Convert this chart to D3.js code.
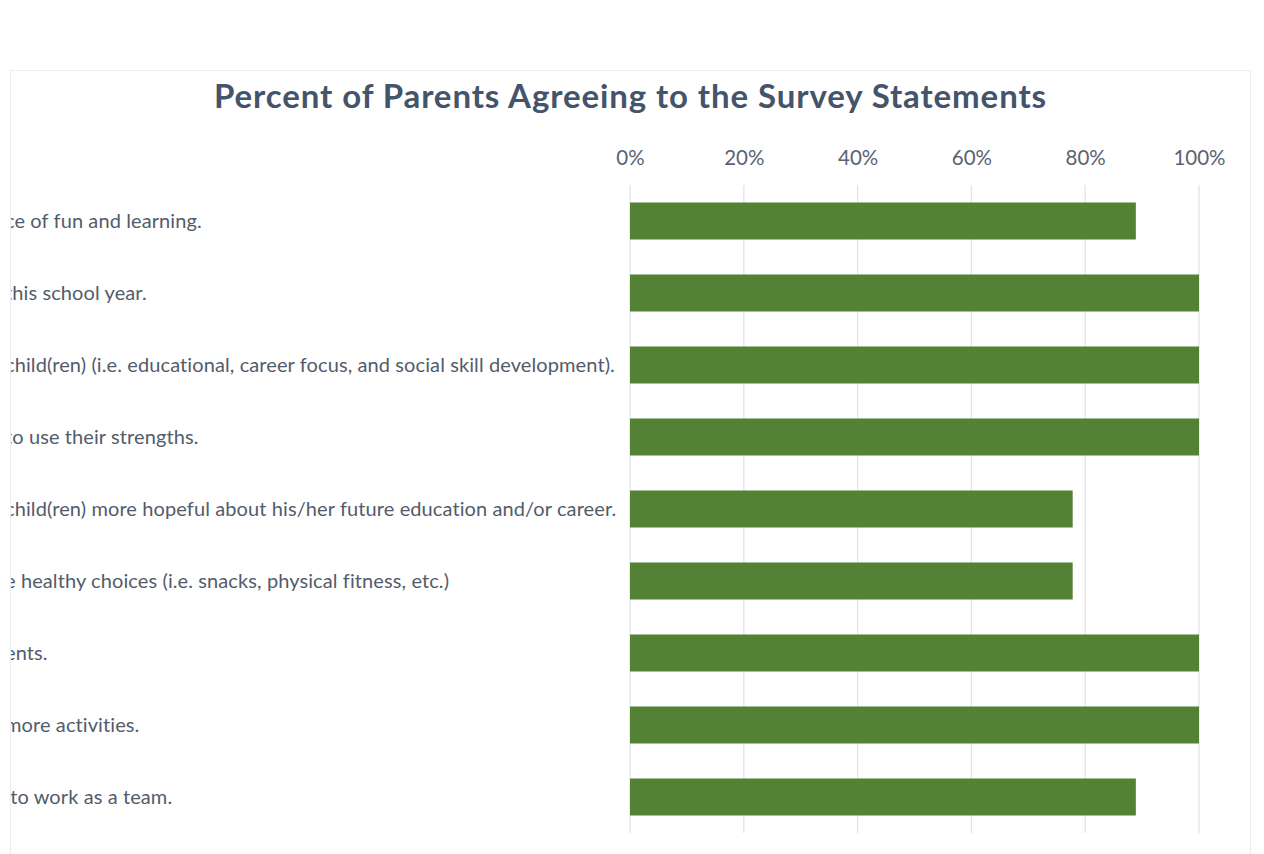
<!DOCTYPE html>
<html>
<head>
<meta charset="utf-8">
<script src="https://cdn.jsdelivr.net/npm/d3@7"></script>
<style>
  html, body { margin: 0; padding: 0; background: #ffffff; }
  svg { display: block; }
</style>
</head>
<body>
<svg id="chart" width="1264" height="854"></svg>
<script>
// ---- data (labels are clipped at the chart's left edge) ----
const categories = [
  "ce of fun and learning.",
  "this school year.",
  "child(ren) (i.e. educational, career focus, and social skill development).",
  "to use their strengths.",
  "child(ren) more hopeful about his/her future education and/or career.",
  "e healthy choices (i.e. snacks, physical fitness, etc.)",
  "ents.",
  "more activities.",
  "\u00a0to work as a team."
];
const values = [88.9, 100, 100, 100, 77.8, 77.8, 100, 100, 88.9];
const tickValues = [0, 20, 40, 60, 80, 100];
const tickLabels = ["0%", "20%", "40%", "60%", "80%", "100%"];
const title = "Percent of Parents Agreeing to the Survey Statements";

// ---- layout ----
const svg = d3.select("#chart");
const frame = { x: 10.5, y: 70.5, w: 1240, h: 800 };
const plot = { left: 630, right: 1199, top: 185, bottom: 833 };
const labelX = 5;
const font = "Lato, 'Open Sans', sans-serif";

const defs = svg.append("defs");
defs.append("clipPath").attr("id", "frameClip")
  .append("rect").attr("x", frame.x + 0.5).attr("y", frame.y).attr("width", frame.w).attr("height", frame.h);

svg.append("rect")
  .attr("x", frame.x).attr("y", frame.y).attr("width", frame.w).attr("height", frame.h)
  .attr("fill", "#ffffff").attr("stroke", "#ebebf0").attr("stroke-width", 1);

const x = d3.scaleLinear().domain([0, 100]).range([plot.left, plot.right]);
const y = d3.scaleBand().domain(d3.range(categories.length))
  .range([plot.top, plot.bottom]).paddingInner(0.486).paddingOuter(0.243);

const g = svg.append("g").attr("clip-path", "url(#frameClip)");

// gridlines
g.append("g").selectAll("line").data(tickValues).join("line")
  .attr("x1", d => x(d)).attr("x2", d => x(d))
  .attr("y1", plot.top).attr("y2", plot.bottom)
  .attr("stroke", "#e3e3ea").attr("stroke-width", 1.3);

// top axis
const axis = d3.axisTop(x).tickValues(tickValues)
  .tickFormat((d, i) => tickLabels[i]).tickSize(0).tickPadding(0);
const ax = g.append("g").attr("transform", `translate(0,${164.5})`).call(axis);
ax.select(".domain").remove();
ax.selectAll("text")
  .attr("dy", 0)
  .attr("font-family", font)
  .attr("font-size", 20.5)
  .attr("fill", "#5a6372");

// bars
g.append("g").selectAll("rect").data(values).join("rect")
  .attr("x", x(0))
  .attr("y", (d, i) => y(i))
  .attr("width", d => x(d) - x(0))
  .attr("height", y.bandwidth())
  .attr("fill", "#548235");

// category labels (left-aligned, clipped by frame)
g.append("g").selectAll("text").data(categories).join("text")
  .attr("x", labelX)
  .attr("y", (d, i) => y(i) + y.bandwidth() / 2)
  .attr("dy", "0.35em")
  .attr("font-family", font)
  .attr("font-size", 20)
  .attr("letter-spacing", 0.1)
  .attr("fill", "#535c6a")
  .text(d => d);

// title
svg.append("text")
  .attr("x", frame.x + frame.w / 2)
  .attr("y", 107.5)
  .attr("text-anchor", "middle")
  .attr("font-family", font)
  .attr("font-weight", "bold")
  .attr("font-size", 33)
  .attr("letter-spacing", 0.9)
  .attr("fill", "#44546a")
  .text(title);
</script>
</body>
</html>
